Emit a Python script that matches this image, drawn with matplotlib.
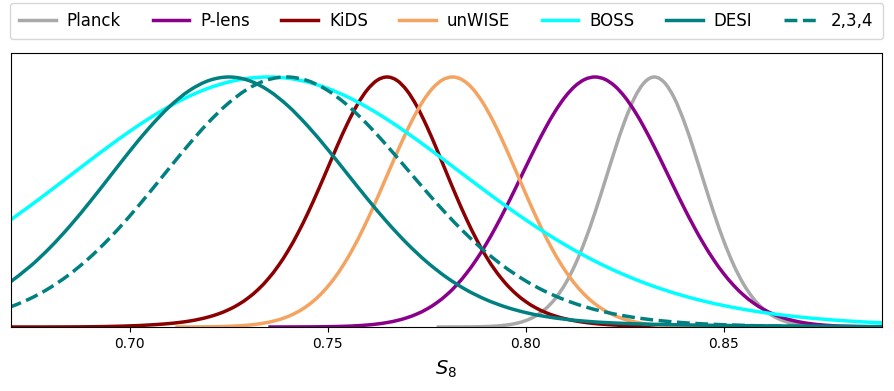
import numpy as np
import matplotlib
matplotlib.use('Agg')
import matplotlib.pyplot as plt
from matplotlib.path import Path
from matplotlib.patches import PathPatch

# Posterior curves of S8, peak-normalised.
# Each curve is sampled on a regular grid: first S8 value, spacing, heights.
labels = ['Planck', 'P-lens', 'KiDS', 'unWISE', 'BOSS', 'DESI', '2,3,4']

planck_start, planck_step = 0.7775, 0.0025
planck_y = [0.0, 0.0001, 0.0002, 0.0004, 0.0009, 0.0019, 0.0039, 0.0076, 0.0142, 0.0255,
            0.0439, 0.0724, 0.1142, 0.1724, 0.2494, 0.3453, 0.4578, 0.5813, 0.7067, 0.8226,
            0.9169, 0.9785, 1.0, 0.9785, 0.9169, 0.8226, 0.7067, 0.5813, 0.4578, 0.3453,
            0.2494, 0.1724, 0.1142, 0.0724, 0.0439, 0.0255, 0.0142, 0.0076, 0.0039, 0.0019,
            0.0009, 0.0004, 0.0002, 0.0001, 0.0, 0.0]

plens_start, plens_step = 0.735, 0.0025
plens_y = [0.0, 0.0001, 0.0002, 0.0003, 0.0005, 0.0008, 0.0013, 0.0021, 0.0033, 0.0052,
           0.0080, 0.0120, 0.0178, 0.0259, 0.0370, 0.0519, 0.0714, 0.0966, 0.1281, 0.1670,
           0.2137, 0.2685, 0.3313, 0.4013, 0.4773, 0.5574, 0.6393, 0.7198, 0.7959, 0.8641,
           0.9211, 0.9641, 0.9909, 1.0, 0.9909, 0.9641, 0.9211, 0.8641, 0.7959, 0.7198,
           0.6393, 0.5574, 0.4773, 0.4013, 0.3313, 0.2685, 0.2137, 0.1670, 0.1281, 0.0966,
           0.0714, 0.0519, 0.0370, 0.0259, 0.0178, 0.0120, 0.0080, 0.0052, 0.0033, 0.0021,
           0.0013, 0.0008, 0.0005]

kids_start, kids_step = 0.67, 0.0025
kids_y = [0.0, 0.0, 0.0, 0.0, 0.0001, 0.0002, 0.0004, 0.0006, 0.0010, 0.0015,
          0.0022, 0.0032, 0.0045, 0.0060, 0.0082, 0.0107, 0.0139, 0.0181, 0.0236, 0.0310,
          0.0406, 0.0531, 0.0695, 0.0905, 0.1174, 0.1512, 0.1933, 0.2444, 0.3054, 0.3763,
          0.4564, 0.5440, 0.6358, 0.7278, 0.8146, 0.8900, 0.9490, 0.9870, 1.0, 0.9862,
          0.9462, 0.8835, 0.8035, 0.7126, 0.6170, 0.5223, 0.4332, 0.3526, 0.2822, 0.2225,
          0.1732, 0.1333, 0.1018, 0.0771, 0.0582, 0.0437, 0.0328, 0.0246, 0.0184, 0.0138,
          0.0104, 0.0079, 0.0060, 0.0045, 0.0033, 0.0024, 0.0017, 0.0012, 0.0008, 0.0005,
          0.0003, 0.0002, 0.0001, 0.0, 0.0, 0.0, 0.0, 0.0, 0.0]

unwise_start, unwise_step = 0.7115, 0.0025
unwise_y = [0.0, 0.0002, 0.0004, 0.0008, 0.0013, 0.0023, 0.0039, 0.0063, 0.0101, 0.0159,
            0.0243, 0.0363, 0.0530, 0.0756, 0.1054, 0.1437, 0.1915, 0.2494, 0.3173, 0.3947,
            0.4797, 0.5699, 0.6615, 0.7505, 0.8322, 0.9019, 0.9551, 0.9886, 1.0, 0.9886,
            0.9551, 0.9019, 0.8322, 0.7505, 0.6615, 0.5699, 0.4797, 0.3947, 0.3173, 0.2494,
            0.1915, 0.1437, 0.1054, 0.0756, 0.0530, 0.0363, 0.0243, 0.0159, 0.0101, 0.0063,
            0.0039, 0.0023, 0.0013, 0.0008, 0.0004, 0.0002, 0.0]

boss_start, boss_step = 0.67, 0.005
boss_y = [0.4296, 0.4868, 0.5461, 0.6065, 0.6670, 0.7261, 0.7827, 0.8353, 0.8825, 0.9231,
          0.9560, 0.9802, 0.9950, 1.0, 0.9948, 0.9794, 0.9543, 0.9204, 0.8786, 0.8304,
          0.7770, 0.7201, 0.6610, 0.6011, 0.5418, 0.4840, 0.4287, 0.3767, 0.3283, 0.2840,
          0.2439, 0.2081, 0.1763, 0.1485, 0.1243, 0.1035, 0.0858, 0.0708, 0.0581, 0.0475,
          0.0387, 0.0315, 0.0255, 0.0206, 0.0166]

desi_start, desi_step = 0.67, 0.005
desi_y = [0.1821, 0.2447, 0.3198, 0.4062, 0.5017, 0.6024, 0.7034, 0.7983, 0.8810, 0.9452,
          0.9860, 1.0, 0.9864, 0.9465, 0.8839, 0.8032, 0.7104, 0.6117, 0.5131, 0.4195,
          0.3346, 0.2606, 0.1986, 0.1485, 0.1094, 0.0797, 0.0577, 0.0420, 0.0310, 0.0233,
          0.0179, 0.0143, 0.0116, 0.0098, 0.0084, 0.0072, 0.0062, 0.0053, 0.0047, 0.0041,
          0.0035, 0.0030, 0.0026, 0.0022, 0.0019]

comb_start, comb_step = 0.6695, 0.005
comb_y = [0.0781, 0.1110, 0.1537, 0.2073, 0.2723, 0.3487, 0.4350, 0.5287, 0.6261, 0.7224,
          0.8121, 0.8895, 0.9493, 0.9871, 1.0, 0.9875, 0.9510, 0.8934, 0.8191, 0.7334,
          0.6417, 0.5494, 0.4606, 0.3786, 0.3055, 0.2424, 0.1893, 0.1457, 0.1108, 0.0833,
          0.0620, 0.0458, 0.0336, 0.0245, 0.0177, 0.0128, 0.0093, 0.0067, 0.0048, 0.0035,
          0.0025, 0.0018, 0.0013, 0.0010, 0.0007, 0.0005]

xticks = [0.70, 0.75, 0.80, 0.85]
xtick_labels = ['0.70', '0.75', '0.80', '0.85']


def grid(start, step, values):
    return start + step * np.arange(len(values))


def smooth_path(x, y):
    # draw a smooth curve through the read points (Catmull-Rom as cubic Beziers)
    pts = np.column_stack([x, y])
    p = np.vstack([pts[0], pts, pts[-1]])
    verts = [pts[0]]
    codes = [Path.MOVETO]
    for i in range(len(pts) - 1):
        p0, p1, p2, p3 = p[i], p[i + 1], p[i + 2], p[i + 3]
        verts += [p1 + (p2 - p0) / 6, p2 - (p3 - p1) / 6, p2]
        codes += [Path.CURVE4] * 3
    return Path(verts, codes)


curves = [
    (planck_start, planck_step, planck_y),
    (plens_start, plens_step, plens_y),
    (kids_start, kids_step, kids_y),
    (unwise_start, unwise_step, unwise_y),
    (boss_start, boss_step, boss_y),
    (desi_start, desi_step, desi_y),
    (comb_start, comb_step, comb_y),
]
colors = ['darkgray', 'darkmagenta', 'darkred', 'sandybrown', 'cyan', 'teal', 'teal']
styles = ['-', '-', '-', '-', '-', '-', '--']

fig = plt.figure(figsize=(8.94, 3.91), dpi=100)
ax = fig.add_axes([11 / 894, 64 / 391, 871 / 894, 274 / 391])

for (start, step, y), lab, col, ls in zip(curves, labels, colors, styles):
    x = grid(start, step, y)
    ax.add_patch(PathPatch(smooth_path(x, y), fill=False, edgecolor=col,
                           linestyle=ls, lw=2.5, capstyle='butt'))
    # proxy line for the legend
    ax.plot([], [], color=col, ls=ls, lw=2.5, label=lab)

ax.set_xlim(0.67, 0.89)
ax.set_ylim(0, 1.096)
ax.set_yticks([])
ax.set_xticks(xticks)
ax.set_xticklabels(xtick_labels)
ax.tick_params(axis='x', labelsize=10)
ax.set_xlabel(r'$S_8$', fontsize=14, labelpad=6)

ax.legend(loc='lower left', bbox_to_anchor=(-0.001, 1.051, 1.002, 0.13),
          mode='expand', ncol=7, borderaxespad=0, fontsize=12, borderpad=0.55,
          handlelength=2.2, handletextpad=0.65)

fig.savefig('out.png', dpi=100)
